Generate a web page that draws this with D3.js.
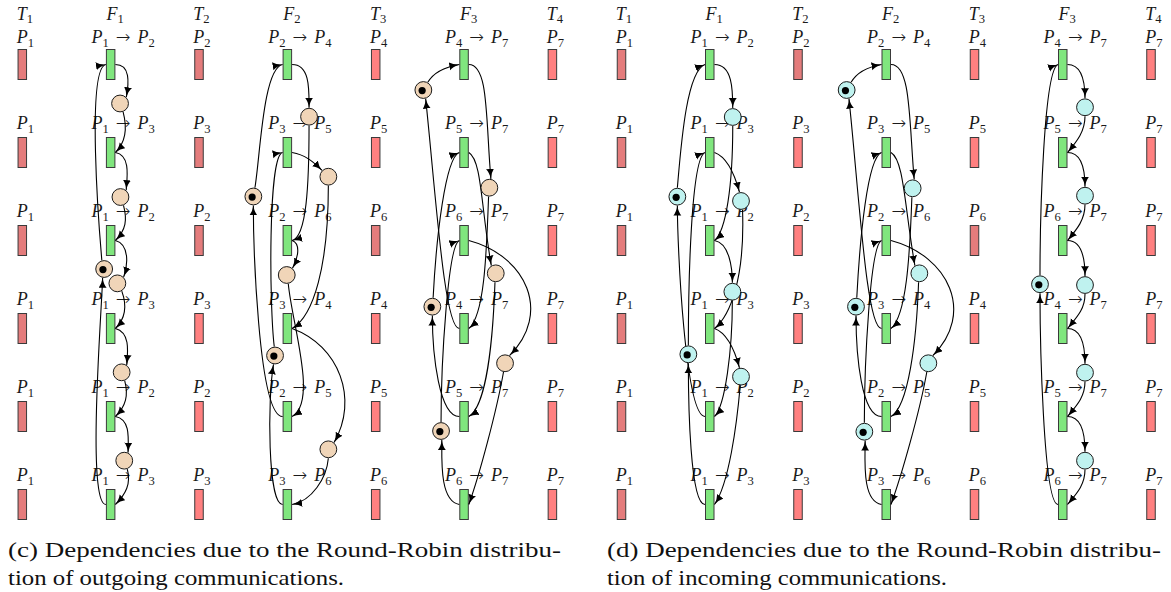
<!DOCTYPE html>
<html><head><meta charset="utf-8">
<script src="https://cdn.jsdelivr.net/npm/d3@7"></script>
<style>
html,body{margin:0;padding:0;background:#fff;}
svg{display:block;}
</style></head>
<body>
<svg id="chart" width="1171" height="592"></svg>
<script>
// ---------------- data ----------------
const headers = [["T",1],["F",1],["T",2],["F",2],["T",3],["F",3],["T",4]];
const rowIdx = [0,1,2,3,4,5];
const tLabels = [[1,1,1,1,1,1],[2,3,2,3,2,3],[4,5,6,4,5,6],[7,7,7,7,7,7]];
const fLabels = [
  [[1,2],[1,3],[1,2],[1,3],[1,2],[1,3]],
  [[2,4],[3,5],[2,6],[3,4],[2,5],[3,6]],
  [[4,7],[5,7],[6,7],[4,7],[5,7],[6,7]]
];
const darkC = [[1,1,1,1,1,1],[1,1,1,0,0,0],[0,0,1,0,0,0],[0,0,0,0,0,0]];
const darkD = [[1,1,1,1,1,1],[1,0,0,0,0,0],[0,0,1,0,0,0],[0,0,0,0,0,0]];

// places: [dx from bar, row position, token]
const placesC1 = [[9.4,0.443,0],[9.8,1.506,0],[6.7,2.487,0],[11.0,3.498,0],[13.6,4.502,0],[-6.5,2.324,1]];
const placesC3 = [[21.7,0.593,0],[41,1.275,0],[-0.6,2.392,0],[41,4.373,0],[-34,1.5,1],[-12.3,3.307,1]];
const placesC5 = [[25.3,1.40,0],[31.7,2.373,0],[41,3.395,0],[-40.7,0.29,1],[-31.7,2.752,1],[-23,4.165,1]];
const placesD1 = [[23,0.5966,0],[31.25,1.551,0],[22.6,2.582,0],[31.25,3.547,0],[-32.4,1.502,1],[-21.4,3.293,1]];
const placesD3 = [[26.4,1.407,0],[33.1,2.373,0],[42.1,3.395,0],[-39.6,0.29,1],[-30.25,2.752,1],[-21.9,4.173,1]];
const placesD5 = [[22.25,0.486,0],[22.25,1.491,0],[22.25,2.506,0],[22.25,3.502,0],[22.25,4.502,0],[-22.75,2.497,1]];

// edges: [src, srcAnchor, outAngle, arm0, tgt, tgtAnchor, inAngle, arm1]
const edgesC1 = [
  ["b0","e",0,15,"p0",45,80,15],
  ["p0",-70,-75,15,"b1","e",45,15],
  ["b1","e",-10,15,"p1",50,85,15],
  ["p1",-70,-75,15,"b2","e",45,15],
  ["b2","e",-15,15,"p2",45,70,12],
  ["p2",-60,-70,15,"b3","e",45,15],
  ["b3","e",-15,15,"p3",55,85,15],
  ["p3",-70,-75,15,"b4","e",45,15],
  ["b4","e",-10,15,"p4",65,88,15],
  ["p4",-70,-75,15,"b5","e",45,15],
  ["b5","w",180,20,"p5",-100,-90,20],
  ["p5",105,95,30,"b0","w",190,20]
];
const edgesC3 = [
  ["b0","e",0,18,"p0",90,90,18],
  ["p0",-90,-90,60,"b2","e",15,15],
  ["b2","e",-20,10,"p2",50,60,10],
  ["p2",-80,-85,40,"b4","e",30,30],
  ["b4","w",180,25,"p4",-90,-90,30],
  ["p4",80,80,30,"b0","w",190,20],
  ["b1","e",-10,13,"p1",135,135,13],
  ["p1",-90,-90,80,"b3","e",30,25],
  ["b3","e",-20,50,"p3",50,60,50],
  ["p3",-90,-95,20,"b5","e",10,20],
  ["b5","w",180,15,"p5",-100,-100,35],
  ["p5",95,97,40,"b1","w",190,15]
];
const edgesC5 = [
  ["b0","e",0,20,"p0",80,95,60],
  ["p0",-95,-92,60,"b3","e",40,20],
  ["b3","w",180,15,"p3",-75,-84,100],
  ["p3",60,60,12,"b0","w",190,12],
  ["b1","e",-30,15,"p1",120,100,60],
  ["p1",-95,-92,60,"b4","e",30,20],
  ["b4","w",180,20,"p4",-90,-90,40],
  ["p4",85,87,60,"b1","w",200,15],
  ["b2","e",-15,60,"p2",60,45,60],
  ["p2",-100,-100,40,"b5","e",70,30],
  ["b5","w",170,20,"p5",-85,-90,20],
  ["p5",90,90,60,"b2","w",200,12]
];
const edgesD1 = [
  ["b0","e",0,18,"p0",90,90,18],
  ["p0",-90,-90,60,"b2","e",40,15],
  ["b1","e",-20,15,"p1",100,105,15],
  ["p1",-80,-88,70,"b3","e",40,20],
  ["b2","e",-10,15,"p2",90,90,15],
  ["p2",-90,-90,50,"b4","e",45,15],
  ["b3","e",-20,15,"p3",100,105,15],
  ["p3",-95,-95,40,"b5","e",55,25],
  ["b4","w",180,20,"p4",-90,-90,40],
  ["p4",90,85,40,"b0","w",200,20],
  ["b5","w",180,15,"p5",-90,-90,40],
  ["p5",90,90,60,"b1","w",200,15]
];
const edgesD3 = [
  ["b0","e",0,20,"p0",80,95,60],
  ["p0",-95,-92,60,"b3","e",40,20],
  ["b3","w",180,15,"p3",-75,-84,100],
  ["p3",60,60,12,"b0","w",190,12],
  ["b1","e",-30,15,"p1",120,100,60],
  ["p1",-95,-92,60,"b4","e",30,20],
  ["b4","w",180,20,"p4",-90,-90,40],
  ["p4",85,87,60,"b1","w",200,15],
  ["b2","e",-15,60,"p2",60,45,60],
  ["p2",-100,-100,40,"b5","e",70,30],
  ["b5","w",170,20,"p5",-85,-90,20],
  ["p5",90,90,60,"b2","w",200,12]
];
const edgesD5 = [
  ["b0","e",0,15,"p0",90,90,15],
  ["p0",-90,-90,15,"b1","e",50,15],
  ["b1","e",0,15,"p1",90,90,15],
  ["p1",-90,-90,15,"b2","e",50,15],
  ["b2","e",0,15,"p2",90,90,15],
  ["p2",-90,-90,15,"b3","e",50,15],
  ["b3","e",0,15,"p3",90,90,15],
  ["p3",-90,-90,15,"b4","e",50,15],
  ["b4","e",0,15,"p4",90,90,15],
  ["p4",-90,-90,15,"b5","e",50,15],
  ["b5","w",180,15,"p5",-90,-90,40],
  ["p5",90,90,60,"b0","w",200,15]
];

const captionC = ["(c) Dependencies due to the Round-Robin distribu-", "tion of outgoing communications."];
const captionD = ["(d) Dependencies due to the Round-Robin distribu-", "tion of incoming communications."];

// ---------------- drawing ----------------
const svg = d3.select("#chart");
const FONT = "'Liberation Serif','DejaVu Serif',serif";
const BW = 9.5, BH = 31, R = 8.9;
const yRow = d3.scaleLinear().domain([0,5]).range([64.5, 504.5]);
const xColC = d3.scaleLinear().domain([0,6]).range([22.3, 552.4]);
const xColD = d3.scaleLinear().domain([0,6]).range([621.5, 1151]);

const defs = svg.append("defs");
defs.append("marker").attr("id","arr").attr("markerUnits","userSpaceOnUse")
  .attr("markerWidth",12).attr("markerHeight",10).attr("refX",10).attr("refY",4)
  .attr("orient","auto")
  .append("path").attr("d","M0,0 Q3.5,3 10,4 Q3.5,5 0,8 Z").attr("fill","#000");

function mathText(g, x, y, parts, size, sub) {
  const t = g.append("text").attr("x", x).attr("y", y).attr("text-anchor","middle")
    .attr("font-family", FONT).attr("font-size", size).attr("fill","#1a1a1a");
  let down = 0;
  parts.forEach((p, i) => {
    if (p[0] === "→") {
      t.append("tspan").attr("dx", 7).attr("dy", -down).attr("font-style","normal")
        .attr("font-family","'DejaVu Sans',sans-serif").attr("font-weight",300).attr("font-size", 17.5).text("→");
      down = 0;
    } else {
      t.append("tspan").attr("dx", i ? 7 : 0).attr("dy", -down).attr("font-style","italic").text(p[0]);
      t.append("tspan").attr("dy", sub).attr("font-size", size*0.7).attr("font-style","normal").text(p[1]);
      down = sub;
    }
  });
}

function drawPanel(xCol, dark, cols, placeFill, caption, capX, capLens) {
  const g = svg.append("g");
  // headers
  headers.forEach((h, i) => {
    mathText(g, xCol(i) + (h[0] === "F" ? 4.5 : 2.5), 19.5, [[h[0], h[1]]], 18, 3);
  });
  // row labels
  rowIdx.forEach(r => {
    const yb = yRow(r) - BH/2 - (r === 0 ? 6.5 : 8);
    [0,2,4,6].forEach((c, k) => mathText(g, xCol(c) + 3, yb, [["P", tLabels[k][r]]], 18, 4));
    [1,3,5].forEach((c, k) => {
      const f = fLabels[k][r];
      mathText(g, xCol(c) + 12.5, yb, [["P", f[0]], ["→"], ["P", f[1]]], 18, 4);
    });
  });
  // bars
  rowIdx.forEach(r => {
    [0,2,4,6].forEach((c, k) => {
      g.append("rect").attr("x", xCol(c) - BW/2 + 0.5).attr("y", yRow(r) - BH/2 + 0.5)
        .attr("width", BW - 1).attr("height", BH - 1)
        .attr("fill", dark[k][r] ? "#e47c7c" : "#ff8080").attr("stroke","#3a3a3a").attr("stroke-width",1);
    });
    [1,3,5].forEach(c => {
      g.append("rect").attr("x", xCol(c) - BW/2 + 0.5).attr("y", yRow(r) - BH/2 + 0.5)
        .attr("width", BW - 1).attr("height", BH - 1)
        .attr("fill", "#80e67e").attr("stroke","#3a3a3a").attr("stroke-width",1);
    });
  });
  // edges & places
  const rad = a => a * Math.PI / 180;
  cols.forEach(({col, places, edges}) => {
    const bx = xCol(col);
    const pt = (node, a) => {
      if (node[0] === "b") {
        const r = +node.slice(1);
        return [bx + (a === "e" ? BW/2 : -BW/2), yRow(r)];
      }
      const p = places[+node.slice(1)];
      return [bx + p[0] + R*Math.cos(rad(a)), yRow(p[1]) - R*Math.sin(rad(a))];
    };
    edges.forEach(e => {
      const [s, sa, ao, l0, t, ta, ai, l1] = e;
      const P0 = pt(s, sa), P3 = pt(t, ta);
      const P1 = [P0[0] + l0*Math.cos(rad(ao)), P0[1] - l0*Math.sin(rad(ao))];
      const P2 = [P3[0] + l1*Math.cos(rad(ai)), P3[1] - l1*Math.sin(rad(ai))];
      const path = d3.path();
      path.moveTo(P0[0], P0[1]);
      path.bezierCurveTo(P1[0], P1[1], P2[0], P2[1], P3[0], P3[1]);
      g.append("path").attr("d", path.toString()).attr("fill","none")
        .attr("stroke","#000").attr("stroke-width",1.1).attr("marker-end","url(#arr)");
    });
    places.forEach(p => {
      const cx = bx + p[0], cy = yRow(p[1]);
      g.append("circle").attr("cx", cx).attr("cy", cy).attr("r", R - 0.5)
        .attr("fill", placeFill).attr("stroke","#1a1a1a").attr("stroke-width",1);
      if (p[2]) g.append("circle").attr("cx", cx - 1.2).attr("cy", cy + 0.6).attr("r", 3.6).attr("fill","#000");
    });
  });
  // caption
  caption.forEach((line, i) => {
    g.append("text").attr("x", capX).attr("y", 557 + i*28)
      .attr("font-family", FONT).attr("font-size", 21).attr("fill","#111")
      .attr("textLength", capLens[i]).attr("lengthAdjust","spacingAndGlyphs")
      .text(line);
  });
}

drawPanel(xColC, darkC, [
  {col:1, places:placesC1, edges:edgesC1},
  {col:3, places:placesC3, edges:edgesC3},
  {col:5, places:placesC5, edges:edgesC5}
], "#f0d5b8", captionC, 8, [553, 336]);

drawPanel(xColD, darkD, [
  {col:1, places:placesD1, edges:edgesD1},
  {col:3, places:placesD3, edges:edgesD3},
  {col:5, places:placesD5, edges:edgesD5}
], "#bff2ef", captionD, 607, [554, 340]);
</script>
</body></html>
